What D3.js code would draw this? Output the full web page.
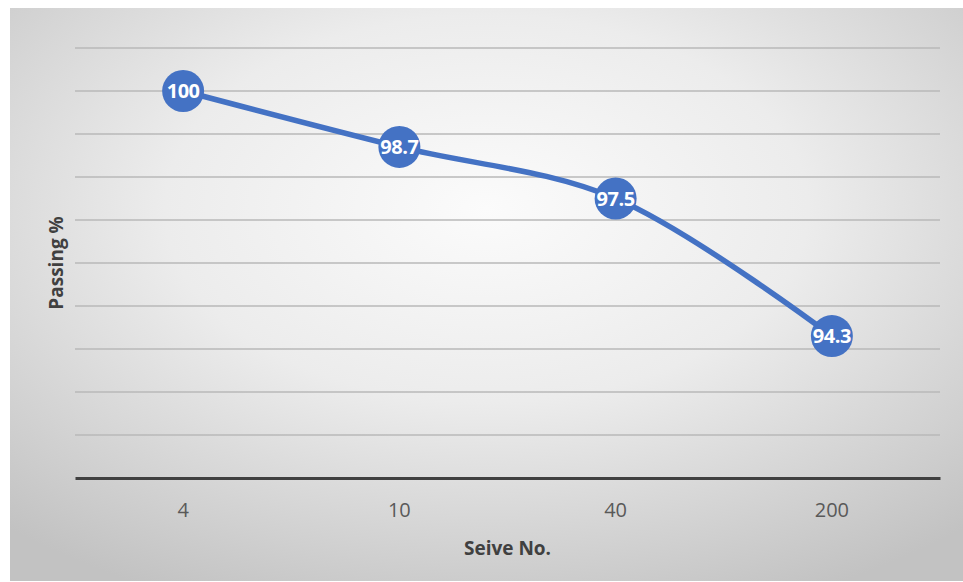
<!DOCTYPE html>
<html>
<head>
<meta charset="utf-8">
<script src="https://cdn.jsdelivr.net/npm/d3@7"></script>
<style>
  html, body { margin: 0; padding: 0; background: #ffffff; }
  svg { display: block; }
</style>
</head>
<body>
<svg id="chart" width="963" height="582"></svg>
<script>
const categories = ["4", "10", "40", "200"];
const passing = [100, 98.7, 97.5, 94.3];
const yTicks = [91, 92, 93, 94, 95, 96, 97, 98, 99, 100, 101];
const xTitle = "Seive No.";
const yTitle = "Passing %";

const svg = d3.select("#chart");
const W = 963, H = 582;
const FONT = "'Open Sans', 'Liberation Sans', sans-serif";

const defs = svg.append("defs");
const grad = defs.append("radialGradient")
  .attr("id", "bg")
  .attr("cx", "50%").attr("cy", "35%").attr("r", "75%")
  .attr("fx", "50%").attr("fy", "35%");
grad.append("stop").attr("offset", "0%").attr("stop-color", "#fbfbfb");
grad.append("stop").attr("offset", "45%").attr("stop-color", "#ececec");
grad.append("stop").attr("offset", "100%").attr("stop-color", "#c2c2c2");

svg.append("rect").attr("x", 10).attr("y", 8).attr("width", W - 10).attr("height", 573)
  .attr("fill", "url(#bg)");

const plot = { left: 75, right: 940, top: 48, bottom: 478 };

const x = d3.scaleBand().domain(categories).range([plot.left, plot.right]).padding(0);
const y = d3.scaleLinear().domain([91, 101]).range([plot.bottom, plot.top]);

// gridlines
svg.append("g").selectAll("line").data(yTicks.filter(t => t > 91)).join("line")
  .attr("x1", plot.left).attr("x2", plot.right)
  .attr("y1", d => y(d)).attr("y2", d => y(d))
  .attr("stroke", "#b8b8b8").attr("stroke-width", 1.5);

// x axis
const xAxis = svg.append("g").attr("transform", `translate(0,${plot.bottom})`)
  .call(d3.axisBottom(x).tickSize(0).tickPadding(25));
xAxis.select(".domain").attr("stroke", "#404040").attr("stroke-width", 3);
xAxis.selectAll("text")
  .attr("fill", "#595959")
  .style("font-family", FONT)
  .style("font-size", "20px");

// axis titles
svg.append("text")
  .attr("x", (plot.left + plot.right) / 2).attr("y", 555)
  .attr("text-anchor", "middle")
  .attr("fill", "#404040")
  .style("font-family", FONT)
  .style("font-weight", "bold").style("font-size", "19px")
  .text(xTitle);

svg.append("text")
  .attr("transform", `translate(63,${(plot.top + plot.bottom) / 2}) rotate(-90)`)
  .attr("text-anchor", "middle")
  .attr("fill", "#404040")
  .style("font-family", FONT)
  .style("font-weight", "bold").style("font-size", "19px")
  .text(yTitle);

const data = categories.map((c, i) => ({ c, v: passing[i] }));
const cx = d => x(d.c) + x.bandwidth() / 2;

const line = d3.line().x(cx).y(d => y(d.v)).curve(d3.curveCatmullRom.alpha(0.5));
svg.append("path").datum(data)
  .attr("d", line)
  .attr("fill", "none")
  .attr("stroke", "#4472C4")
  .attr("stroke-width", 5.5)
  .attr("stroke-linecap", "round");

svg.append("g").selectAll("circle").data(data).join("circle")
  .attr("cx", cx).attr("cy", d => y(d.v)).attr("r", 21)
  .attr("fill", "#4472C4");

svg.append("g").selectAll("text").data(data).join("text")
  .attr("x", cx).attr("y", d => y(d.v))
  .attr("dy", "0.36em")
  .attr("text-anchor", "middle")
  .attr("fill", "#ffffff")
  .style("font-family", FONT)
  .style("font-weight", "bold").style("font-size", "20px")
  .style("letter-spacing", "-0.5px")
  .text(d => d.v);
</script>
</body>
</html>
